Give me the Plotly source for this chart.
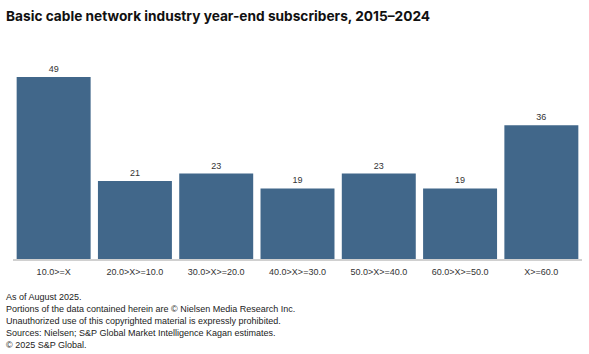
import plotly.graph_objects as go

categories = ["10.0>=X", "20.0>X>=10.0", "30.0>X>=20.0", "40.0>X>=30.0",
              "50.0>X>=40.0", "60.0>X>=50.0", "X>=60.0"]
values = [49, 21, 23, 19, 23, 19, 36]

title = "Basic cable network industry year-end subscribers, 2015\u20132024"
notes = [
    "As of August 2025.",
    "Portions of the data contained herein are \u00a9 Nielsen Media Research Inc.",
    "Unauthorized use of this copyrighted material is expressly prohibited.",
    "Sources: Nielsen; S&P Global Market Intelligence Kagan estimates.",
    "\u00a9 2025 S&P Global.",
]

fig = go.Figure(go.Bar(
    x=categories, y=values,
    marker=dict(color="#41678A", line=dict(color="#41678A", width=0)),
    text=[str(v) for v in values], textposition="outside",
    textfont=dict(size=9, color="#333333", family="Liberation Sans"),
    cliponaxis=False,
))

fig.update_layout(
    width=589, height=354,
    margin=dict(l=13, r=7, t=60, b=95),
    paper_bgcolor="white", plot_bgcolor="white",
    bargap=0.09,
    showlegend=False,
    font=dict(family="Liberation Sans", color="#333333"),
    xaxis=dict(showline=True, linecolor="#d0d0d0", linewidth=2,
               ticks="", tickfont=dict(size=9, color="#333333"),
               ticklabelstandoff=3, showgrid=False),
    yaxis=dict(range=[0, 53.6], visible=False, showgrid=False),
)

fig.add_annotation(text="<b>" + title + "</b>", xref="paper", yref="paper",
                   x=-0.0155, y=1, xanchor="left", yanchor="top", showarrow=False,
                   yshift=60 - 6,
                   font=dict(size=13.7, family="Inter", color="#111111"))

for i, n in enumerate(notes):
    fig.add_annotation(text=n, xref="paper", yref="paper",
                       x=-0.0155, y=0, xanchor="left", yanchor="middle",
                       yshift=-(297 - 259) - 12 * i, showarrow=False,
                       font=dict(size=9, family="Liberation Sans", color="#222222"))

fig.write_html("out.html")
